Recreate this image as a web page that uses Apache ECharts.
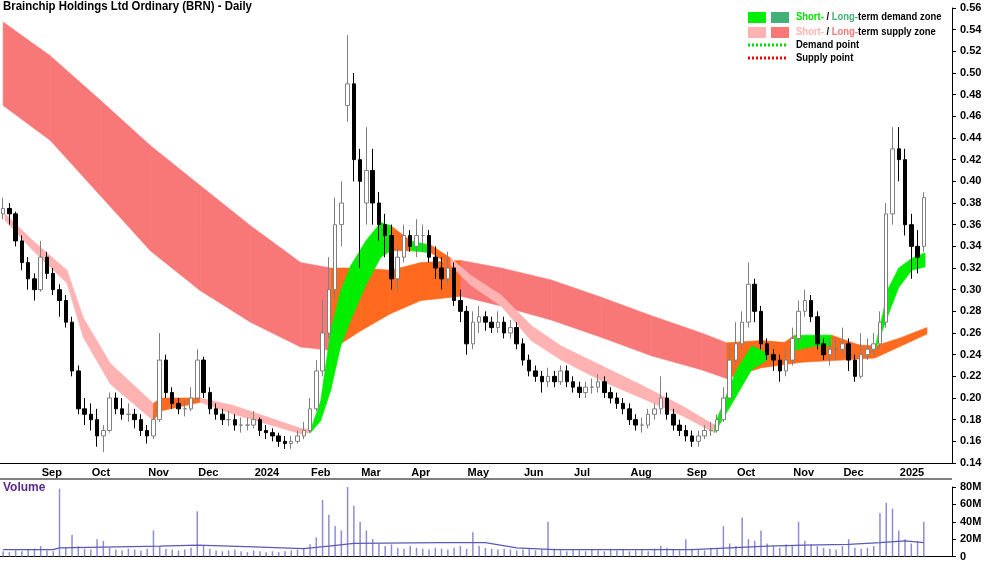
<!DOCTYPE html>
<html><head><meta charset="utf-8">
<script src="https://cdn.jsdelivr.net/npm/echarts@6/dist/echarts.min.js"></script>
<style>html,body{margin:0;padding:0;background:#fff}#c{width:1000px;height:562px}</style>
</head><body><div id="c"></div>
<script>
// ---- data ----
var slotCount = 152;
var startDay = '2023-08-14';
var tradingStep = 2.54;
// candles: [open, close, low, high]
var candles = [
[.37,.375,.365,.385],[.375,.37,.36,.38],[.37,.345,.34,.372],[.345,.325,.318,.35],[.325,.31,.30,.33],
[.31,.30,.29,.315],[.30,.33,.298,.345],[.33,.315,.31,.335],[.315,.30,.295,.32],[.30,.29,.275,.305],
[.29,.27,.265,.295],[.27,.225,.22,.275],[.225,.19,.185,.23],[.19,.185,.175,.2],[.185,.18,.17,.195],
[.18,.165,.155,.19],[.165,.17,.15,.175],[.17,.20,.168,.205],[.20,.19,.185,.205],[.19,.185,.18,.2],
[.185,.185,.178,.195],[.185,.18,.172,.19],[.18,.17,.165,.185],[.17,.165,.158,.175],[.165,.18,.162,.185],
[.18,.235,.178,.26],[.235,.205,.2,.24],[.205,.195,.19,.21],[.195,.19,.185,.2],[.19,.19,.183,.198],
[.19,.20,.188,.21],[.20,.235,.198,.245],[.235,.205,.2,.238],[.205,.19,.185,.21],[.19,.185,.18,.195],
[.185,.18,.175,.19],[.18,.18,.174,.188],[.18,.175,.17,.185],[.175,.175,.168,.182],[.175,.175,.17,.182],
[.175,.18,.172,.188],[.18,.17,.165,.182],[.17,.168,.162,.175],[.168,.165,.16,.172],[.165,.16,.155,.168],
[.16,.158,.153,.165],[.158,.16,.153,.165],[.16,.165,.158,.17],[.165,.17,.162,.178],[.17,.19,.168,.2],
[.19,.225,.188,.235],[.225,.26,.22,.29],[.26,.3,.255,.33],[.30,.36,.29,.385],[.36,.38,.34,.40],
[.47,.49,.455,.535],[.49,.42,.40,.50],[.42,.40,.32,.43],[.38,.41,.36,.45],[.41,.38,.36,.43],
[.38,.36,.345,.39],[.36,.35,.33,.37],[.35,.31,.30,.36],[.31,.33,.30,.34],[.33,.35,.325,.36],
[.35,.34,.335,.355],[.34,.35,.33,.365],[.35,.35,.335,.36],[.35,.33,.325,.355],[.33,.32,.31,.34],
[.32,.31,.30,.33],[.31,.32,.305,.335],[.32,.29,.285,.325],[.29,.28,.27,.30],[.28,.25,.24,.285],
[.25,.27,.245,.28],[.27,.275,.26,.285],[.275,.27,.262,.28],[.27,.265,.26,.275],[.265,.27,.26,.28],
[.27,.26,.255,.275],[.26,.265,.255,.272],[.265,.25,.245,.27],[.25,.235,.23,.255],[.235,.225,.22,.24],
[.225,.22,.215,.23],[.22,.215,.205,.225],[.215,.22,.21,.228],[.22,.215,.21,.225],[.215,.225,.212,.23],
[.225,.215,.21,.23],[.215,.21,.205,.22],[.21,.205,.2,.215],[.205,.21,.2,.215],[.21,.21,.204,.218],
[.21,.215,.205,.222],[.215,.205,.2,.22],[.205,.2,.195,.21],[.2,.195,.19,.205],[.195,.19,.185,.2],
[.19,.18,.175,.195],[.18,.175,.17,.185],[.175,.175,.168,.182],[.175,.185,.172,.19],[.185,.19,.18,.195],
[.19,.2,.185,.22],[.2,.185,.18,.205],[.185,.175,.17,.19],[.175,.17,.165,.18],[.17,.165,.16,.175],
[.165,.16,.155,.17],[.16,.165,.155,.17],[.165,.17,.162,.175],[.17,.17,.165,.178],[.17,.18,.168,.185],
[.18,.2,.178,.21],[.2,.235,.198,.25],[.235,.25,.23,.27],[.25,.27,.245,.28],[.27,.305,.265,.325],
[.305,.28,.27,.31],[.28,.25,.245,.285],[.25,.24,.235,.255],[.24,.235,.225,.245],[.235,.225,.215,.24],
[.225,.235,.22,.245],[.235,.255,.23,.265],[.255,.28,.25,.29],[.28,.29,.275,.30],[.29,.275,.27,.295],
[.275,.25,.245,.28],[.25,.24,.235,.255],[.24,.245,.23,.255],[.245,.245,.235,.255],[.245,.25,.24,.265],
[.25,.235,.225,.255],[.235,.22,.215,.24],[.22,.24,.218,.26],[.24,.245,.235,.255],[.245,.25,.24,.26],
[.25,.27,.245,.28],[.27,.37,.265,.38],[.37,.43,.36,.45],[.43,.42,.40,.45],[.42,.36,.35,.43],
[.36,.34,.31,.37],[.34,.33,.315,.355],[.34,.385,.335,.39]
];
// volume in millions per candle
var volumes = [
6,5,7,6,8,9,12,7,6,78,10,25,12,9,8,20,18,10,8,7,9,8,7,9,30,12,9,8,7,8,10,52,12,9,7,6,7,8,6,5,
7,6,5,6,5,6,7,8,10,14,22,65,48,35,30,80,58,40,30,20,15,12,14,10,9,12,10,9,8,10,9,8,10,12,9,28,
12,10,9,8,9,8,7,8,9,7,8,40,9,7,6,8,7,6,8,7,6,9,7,8,6,7,8,6,9,12,10,8,7,20,9,8,7,10,9,35,
15,12,45,20,18,30,15,12,10,14,12,40,18,14,12,10,9,8,12,20,10,9,10,12,50,62,55,30,20,15,18,40
];
// volume moving average: [candle index, millions]
var volMaIdx = [0,8,9,25,31,40,48,52,56,70,77,82,88,110,116,122,128,135,140,144,147];
var volMaVal = [8,8,10,12,13,11,9,12,15,16,16,10,8,8,10,12,13,14,16,18,16];
// long-term zone: candle index, upper, lower, colour key of following segment
var longIdx = [0,7.5,15.5,23.5,31.5,39.5,47.5,52.3,57.1,61.9,66.7,73.1,79.5,87.5,95.5,103.5,111.5,115.5,121.1,127.5,133.9,139.2,143,147.5];
var longUp  = [.547,.516,.475,.433,.396,.359,.325,.320,.320,.318,.325,.327,.320,.309,.293,.276,.260,.251,.253,.250,.250,.248,.255,.265];
var longLo  = [.470,.438,.387,.336,.299,.270,.247,.244,.262,.278,.290,.294,.285,.272,.256,.239,.226,.218,.228,.233,.235,.237,.247,.259];
var longKey = ['L','L','L','L','L','L','L','O','O','O','O','L','L','L','L','L','L','O','O','O','O','O','O','O'];
// short-term zone
var shortIdx = [0.3,4.8,10.2,12.8,17.1,24,25.1,31.5,36.8,47.5,49.1,50.7,52.3,53.9,55.5,57.9,60.3,61.9,65.1,68.3,71.5,74.7,79.5,84.3,89.1,95.5,101.9,108.3,113.6,117.1,119.5,122.2,126.4,129.6,132.3,137.1,139.2,141.4,143,145.1,147.2];
var shortUp = [.370,.345,.318,.274,.232,.195,.200,.200,.193,.172,.171,.197,.262,.299,.322,.345,.362,.359,.345,.341,.329,.313,.295,.267,.248,.230,.212,.193,.175,.226,.248,.241,.258,.258,.258,.248,.246,.302,.320,.329,.334];
var shortLo = [.364,.336,.306,.256,.213,.179,.188,.196,.185,.167,.168,.179,.207,.248,.272,.304,.330,.336,.336,.334,.322,.304,.285,.253,.235,.216,.200,.184,.168,.202,.226,.236,.244,.248,.248,.242,.244,.278,.302,.318,.321];
var shortKey = ['S','S','S','S','S','O','O','S','S','S','G','G','G','G','G','G','G','O','G','O','S','S','S','S','S','S','S','S','G','G','G','O','G','G','O','O','G','G','G','G','G'];
var monthNames = ['Jan','Feb','Mar','Apr','May','Jun','Jul','Aug','Sep','Oct','Nov','Dec'];
var titleText = 'Brainchip Holdings Ltd Ordinary (BRN) - Daily';

// ---- build ----
var zoneColors = {L:'#f87878', O:'#ff6a1e', S:'#ffb2b2', G:'#00ee00'};
var dates = [];
(function(){
  var d = new Date(startDay+'T00:00:00'); var list=[new Date(d)];
  while (list.length < 420) { d.setDate(d.getDate()+1); if (d.getDay()!==0 && d.getDay()!==6) list.push(new Date(d)); }
  for (var i=0;i<slotCount;i++){ dates.push(list[Math.round(i*tradingStep)]); }
})();
var cats = dates.map(function(d){return d.getFullYear()+'-'+(d.getMonth()+1)+'-'+d.getDate();});
function isMonthStart(i){ return i>0 && dates[i].getMonth()!==dates[i-1].getMonth(); }

function bandSeries(idx, up, lo, key){
  return {
    type:'custom', xAxisIndex:2, yAxisIndex:0, silent:true, clip:true, z:1,
    data: idx.map(function(v,i){return [v, up[i], lo[i]];}),
    encode:{x:0,y:[1,2]},
    renderItem:function(params, api){
      var i = params.dataIndex; if (i >= idx.length-1) return null;
      var a=api.coord([idx[i],up[i]]), b=api.coord([idx[i+1],up[i+1]]),
          c=api.coord([idx[i+1],lo[i+1]]), d=api.coord([idx[i],lo[i]]);
      var col = zoneColors[key[i]];
      return {type:'polygon', shape:{points:[a,b,c,d]}, style:{fill:col, stroke:col, lineWidth:0.6}};
    }
  };
}

var font = 'Liberation Sans, Arial, sans-serif';
var lab = {color:'#000', fontFamily:font, fontSize:11, fontWeight:'bold'};
var chart = echarts.init(document.getElementById('c'));
chart.setOption({
  animation:false, backgroundColor:'#fff',
  grid:[{left:0,right:48,top:8,height:455},{left:0,right:48,top:487,height:70}],
  xAxis:[
    {type:'category', gridIndex:0, data:cats, boundaryGap:true,
     axisLine:{onZero:false,lineStyle:{color:'#000'}},
     axisTick:{interval:function(i){return isMonthStart(i);}, length:4, lineStyle:{color:'#000'}},
     axisLabel:Object.assign({interval:function(i){return isMonthStart(i);}, align:'left', margin:4, padding:[0,0,0,1],
       formatter:function(v,i){var d=dates[i]; return d.getMonth()===0? String(d.getFullYear()) : monthNames[d.getMonth()];}}, lab),
     splitLine:{show:false}},
    {type:'category', gridIndex:1, data:cats, boundaryGap:true, axisLine:{onZero:false,lineStyle:{color:'#000'}}, axisTick:{show:false}, axisLabel:{show:false}},
    {type:'value', gridIndex:0, min:-0.5, max:slotCount-0.5, show:false, axisLine:{show:false}},
    {type:'value', gridIndex:1, min:-0.5, max:slotCount-0.5, show:false, axisLine:{show:false}}
  ],
  yAxis:[
    {type:'value', gridIndex:0, position:'right', min:0.14, max:0.56, interval:0.02,
     axisLine:{show:true,onZero:false,lineStyle:{color:'#000'}}, axisTick:{show:true,length:4,lineStyle:{color:'#000'}},
     splitLine:{show:false},
     axisLabel:Object.assign({margin:8, formatter:function(v){return v.toFixed(2);}}, lab)},
    {type:'value', gridIndex:1, position:'right', min:0, max:80, interval:20,
     axisLine:{show:true,onZero:false,lineStyle:{color:'#000'}}, axisTick:{show:true,length:4,lineStyle:{color:'#000'}},
     splitLine:{show:false},
     axisLabel:Object.assign({margin:8, formatter:function(v){return v===0?'0':v+'M';}}, lab)}
  ],
  series:[
    bandSeries(longIdx, longUp, longLo, longKey),
    bandSeries(shortIdx, shortUp, shortLo, shortKey),
    {type:'candlestick', xAxisIndex:0, yAxisIndex:0, z:5, barWidth:4, data:candles,
     itemStyle:{color:'#ffffff', color0:'#000000', borderColor:'#808080', borderColor0:'#000000', borderWidth:1}},
    {type:'bar', xAxisIndex:1, yAxisIndex:1, data:volumes, barWidth:1.5, itemStyle:{color:'#8d8dd6'}},
    {type:'line', xAxisIndex:3, yAxisIndex:1, data:volMaIdx.map(function(v,i){return [v,volMaVal[i]];}),
     symbol:'none', lineStyle:{color:'#5a5ab4', width:1.2}, z:5}
  ],
  graphic:[
    {type:'text', x:3, y:1, scaleX:0.95, style:{text:titleText, font:'bold 12px '+font, fill:'#000'}},
    {type:'text', x:3, y:482, style:{text:'Volume', font:'bold 12px '+font, fill:'#5a2a8a'}},
    {type:'line', shape:{x1:0,y1:479,x2:952,y2:479}, style:{stroke:'#000',lineWidth:1}},
    {type:'rect', shape:{x:748,y:12,width:18,height:11}, style:{fill:'#00ee00'}},
    {type:'rect', shape:{x:771,y:12,width:18,height:11}, style:{fill:'#44b077'}},
    {type:'rect', shape:{x:748,y:27,width:18,height:11}, style:{fill:'#ffb2b2'}},
    {type:'rect', shape:{x:771,y:27,width:18,height:11}, style:{fill:'#f87878'}},
    {type:'line', shape:{x1:748,y1:45,x2:788,y2:45}, style:{stroke:'#00dd00',lineWidth:3,lineDash:[2,2]}},
    {type:'line', shape:{x1:748,y1:58,x2:788,y2:58}, style:{stroke:'#ee0000',lineWidth:3,lineDash:[2,2]}},
    {type:'text', x:796, y:11, scaleX:0.86, style:{text:'{g|Short-}{k| / }{d|Long-}{k|term demand zone}',
      rich:{g:{fill:'#00dd00',font:'bold 11px '+font},k:{fill:'#000',font:'bold 11px '+font},d:{fill:'#44b077',font:'bold 11px '+font}}}},
    {type:'text', x:796, y:26, scaleX:0.86, style:{text:'{p|Short-}{k| / }{r|Long-}{k|term supply zone}',
      rich:{p:{fill:'#ffb2b2',font:'bold 11px '+font},k:{fill:'#000',font:'bold 11px '+font},r:{fill:'#f87878',font:'bold 11px '+font}}}},
    {type:'text', x:796, y:39, scaleX:0.86, style:{text:'Demand point', font:'bold 11px '+font, fill:'#000'}},
    {type:'text', x:796, y:52, scaleX:0.86, style:{text:'Supply point', font:'bold 11px '+font, fill:'#000'}}
  ]
});
</script></body></html>
